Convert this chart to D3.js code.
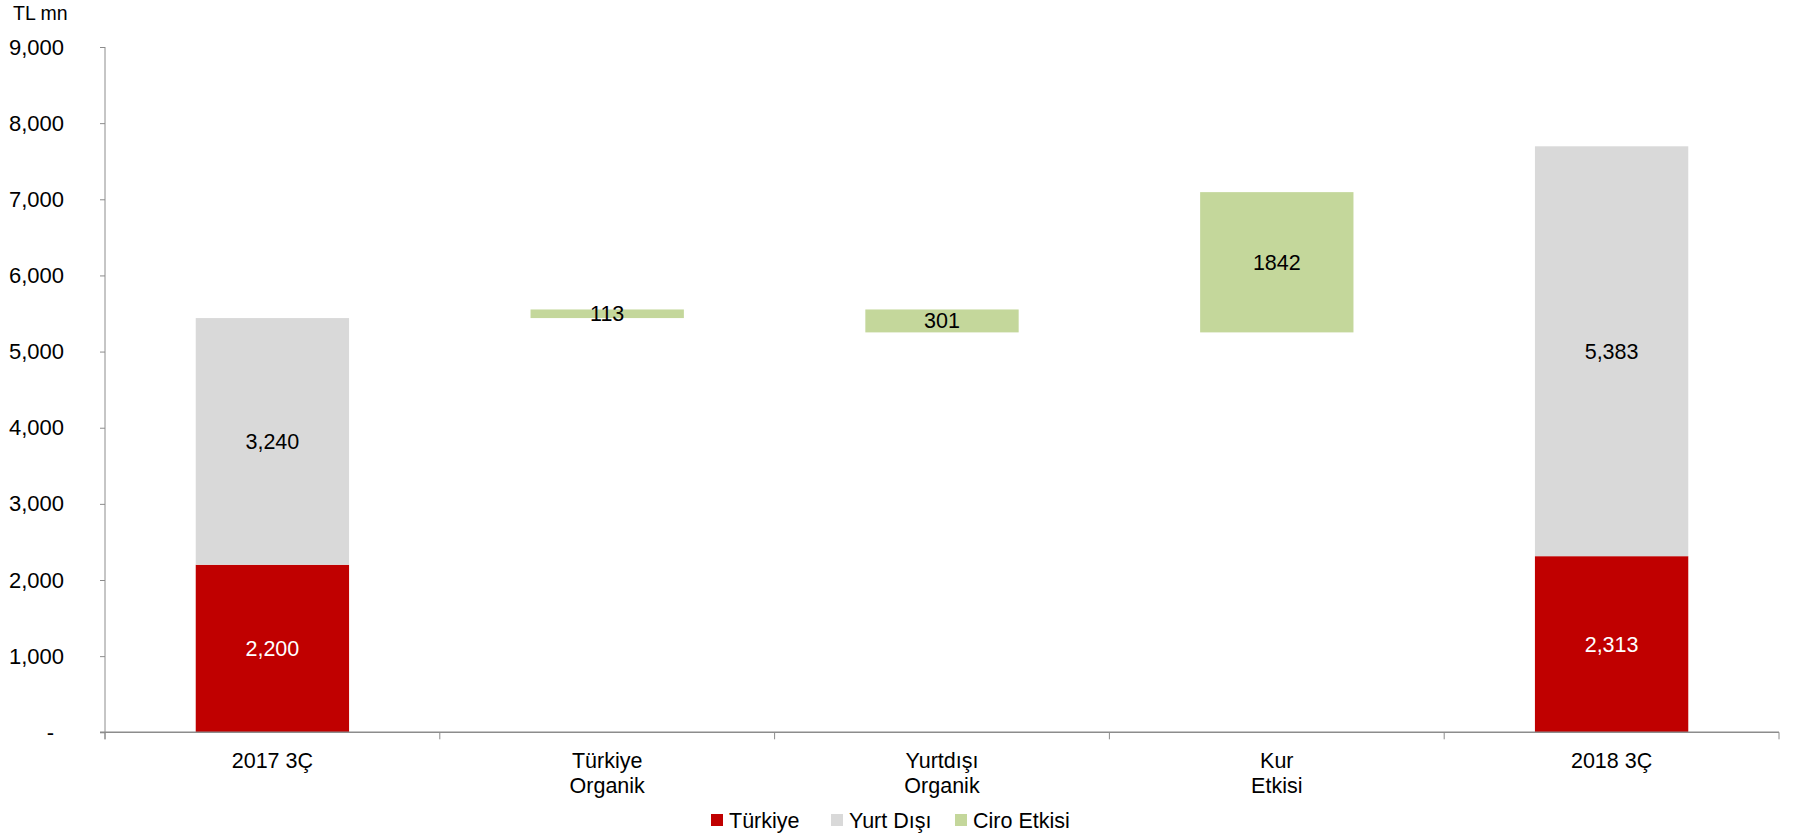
<!DOCTYPE html>
<html>
<head>
<meta charset="utf-8">
<script src="https://cdn.jsdelivr.net/npm/d3@7"></script>
<style>
	body { margin: 0; background: #fff; }
	text { font-family: "Liberation Sans", Arial, sans-serif; }
</style>
</head>
<body>
<div id="chart"></div>
<script>
let width = 1795,
	height = 836;

// categories (x axis), lines split for the two-line labels
let categories = ["2017 3Ç", "Türkiye Organik", "Yurtdışı Organik", "Kur Etkisi", "2018 3Ç"];
let catLines = [["2017 3Ç"], ["Türkiye", "Organik"], ["Yurtdışı", "Organik"], ["Kur", "Etkisi"], ["2018 3Ç"]];

// stacked values for the two total bars
let turkiye = [2200, 0, 0, 0, 2313];
let yurtDisi = [3240, 0, 0, 0, 5383];
// floating waterfall steps: invisible base + visible value
let ciroBase = [0, 5440, 5252, 5252, 0];
let ciroValue = [0, 113, 301, 1842, 0];

let yTicks = [0, 1000, 2000, 3000, 4000, 5000, 6000, 7000, 8000, 9000];

let seriesNames = ["Türkiye", "Yurt Dışı", "Ciro Etkisi"];
let colors = d3.scaleOrdinal()
	.domain(seriesNames)
	.range(["#C00000", "#D9D9D9", "#C4D79B"]);

let fs = 21.5;

let svg = d3.select('#chart').append('svg')
	.attr('width', width)
	.attr('height', height);

let x = d3.scaleBand()
	.domain(categories)
	.range([105, 1779])
	.paddingInner(0.542)
	.paddingOuter(0.271);

let y = d3.scaleLinear()
	.domain([0, 9000])
	.range([732.3, 47]);

let fmt = d3.format(",");

// segments to draw
let segs = [];
categories.forEach(function (c, i) {
	if (turkiye[i] > 0) segs.push({ cat: c, s: "Türkiye", y0: 0, y1: turkiye[i], label: fmt(turkiye[i]), fill: "#fff" });
	if (yurtDisi[i] > 0) segs.push({ cat: c, s: "Yurt Dışı", y0: turkiye[i], y1: turkiye[i] + yurtDisi[i], label: fmt(yurtDisi[i]), fill: "#000" });
	if (ciroValue[i] > 0) segs.push({ cat: c, s: "Ciro Etkisi", y0: ciroBase[i], y1: ciroBase[i] + ciroValue[i], label: String(ciroValue[i]), fill: "#000" });
});

svg.selectAll('.bar')
	.data(segs)
	.enter().append('rect').classed('bar', true)
	.attr('x', function (d) { return x(d.cat); })
	.attr('width', x.bandwidth())
	.attr('y', function (d) { return y(d.y1); })
	.attr('height', function (d) { return y(d.y0) - y(d.y1); })
	.attr('fill', function (d) { return colors(d.s); });

svg.selectAll('.lbl')
	.data(segs)
	.enter().append('text').classed('lbl', true)
	.attr('x', function (d) { return x(d.cat) + x.bandwidth() / 2; })
	.attr('y', function (d) { return y((d.y0 + d.y1) / 2); })
	.attr('dy', '0.35em')
	.attr('text-anchor', 'middle')
	.attr('font-size', fs)
	.attr('fill', function (d) { return d.fill; })
	.text(function (d) { return d.label; });

// y axis
let yAxis = d3.axisLeft(y)
	.tickValues(yTicks)
	.tickSize(5)
	.tickPadding(36)
	.tickFormat(function (d) { return d === 0 ? "-" : fmt(d); });

let gy = svg.append('g')
	.attr('transform', 'translate(105,0)')
	.call(yAxis);
gy.select('.domain').remove();
gy.append('line')
	.attr('x1', 0).attr('x2', 0)
	.attr('y1', y(9000)).attr('y2', y(0) + 7)
	.attr('stroke', '#8c8c8c');
gy.selectAll('.tick line').attr('stroke', '#8c8c8c');
gy.selectAll('.tick text')
	.attr('font-size', 22)
	.attr('fill', '#000')
	.attr('font-family', '"Liberation Sans", Arial, sans-serif')
	.attr('dx', function (d) { return d === 0 ? -10 : 0; });

// x axis
let step = x.step();
let bounds = [105].concat(categories.map(function (c) { return x(c) + x.bandwidth() / 2 + step / 2; }));

svg.append('line')
	.attr('x1', 100).attr('x2', 1779)
	.attr('y1', y(0)).attr('y2', y(0))
	.attr('stroke', '#8c8c8c').attr('stroke-width', 1.5);

svg.selectAll('.xtick')
	.data(bounds)
	.enter().append('line').classed('xtick', true)
	.attr('x1', function (d) { return d; }).attr('x2', function (d) { return d; })
	.attr('y1', y(0)).attr('y2', y(0) + 7)
	.attr('stroke', '#8c8c8c');

let xl = svg.selectAll('.xlab')
	.data(categories)
	.enter().append('text').classed('xlab', true)
	.attr('x', function (d) { return x(d) + x.bandwidth() / 2; })
	.attr('y', 768)
	.attr('text-anchor', 'middle')
	.attr('font-size', fs);

xl.selectAll('tspan')
	.data(function (d, i) { return catLines[i]; })
	.enter().append('tspan')
	.attr('x', function () { return d3.select(this.parentNode).attr('x'); })
	.attr('dy', function (d, i) { return i === 0 ? 0 : 25; })
	.text(function (d) { return d; });

// unit label
svg.append('text')
	.attr('x', 13).attr('y', 20)
	.attr('font-size', 19.5)
	.text('TL mn');

// legend
let legendX = [711, 831, 955];
let lg = svg.selectAll('.leg')
	.data(seriesNames)
	.enter().append('g').classed('leg', true)
	.attr('transform', function (d, i) { return 'translate(' + legendX[i] + ',820)'; });
lg.append('rect')
	.attr('x', 0).attr('y', -6)
	.attr('width', 12).attr('height', 12)
	.attr('fill', function (d) { return colors(d); });
lg.append('text')
	.attr('x', 18).attr('dy', '0.35em')
	.attr('font-size', fs)
	.text(function (d) { return d; });
</script>
</body>
</html>
